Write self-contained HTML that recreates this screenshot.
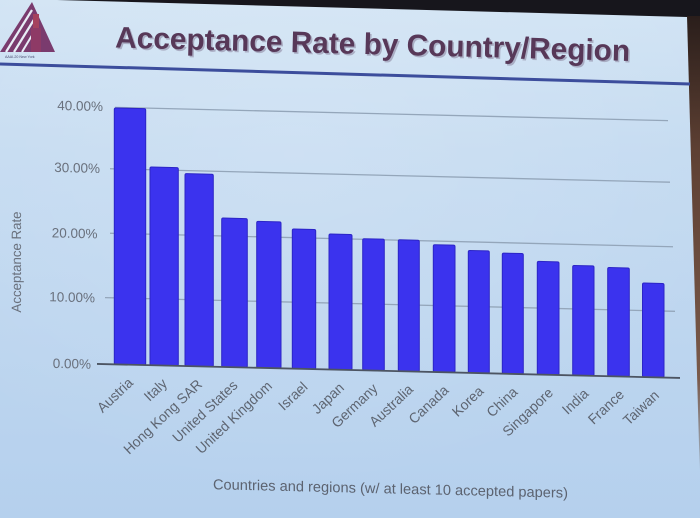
<!DOCTYPE html>
<html>
<head>
<meta charset="utf-8">
<style>
  html, body { margin: 0; padding: 0; background: #c4dbf0; }
  svg { display: block; }
  text { font-family: "Liberation Sans", Arial, sans-serif; }
</style>
</head>
<body>
<svg width="700" height="518" viewBox="0 0 700 518" xmlns="http://www.w3.org/2000/svg">
  <defs>
    <linearGradient id="bg" x1="0" y1="0" x2="0" y2="1">
      <stop offset="0" stop-color="#d2e4f4"/>
      <stop offset="0.3" stop-color="#c5dbf1"/>
      <stop offset="1" stop-color="#b5d0ed"/>
    </linearGradient>
    <radialGradient id="hl" cx="0.42" cy="0.3" r="0.65">
      <stop offset="0" stop-color="#ffffff" stop-opacity="0.15"/>
      <stop offset="1" stop-color="#ffffff" stop-opacity="0"/>
    </radialGradient>
    <linearGradient id="brown" x1="0" y1="0" x2="0" y2="1">
      <stop offset="0" stop-color="#2a1e1b"/>
      <stop offset="0.3" stop-color="#5e4033"/>
      <stop offset="0.8" stop-color="#7a5a4a"/>
      <stop offset="1" stop-color="#9fb4c8"/>
    </linearGradient>
  </defs>

  <!-- slide background -->
  <rect x="0" y="0" width="700" height="518" fill="url(#bg)"/>
  <rect x="0" y="0" width="700" height="518" fill="url(#hl)"/>

  <!-- dark area above slide -->
  <polygon points="57,0 700,0 700,18 687,17" fill="#17161c"/>
  <!-- brown strip at right -->
  <polygon points="687,16 700,16 700,470 699,445" fill="url(#brown)"/>

  <!-- logo -->
  <g>
    <polygon points="0,52 32,2 55,52" fill="#7a3b6e"/>
    <line x1="6" y1="52" x2="32" y2="10" stroke="#e8eef7" stroke-width="2.2"/>
    <line x1="14" y1="52" x2="35" y2="18" stroke="#e8eef7" stroke-width="2.2"/>
    <line x1="22" y1="52" x2="37" y2="27" stroke="#e8eef7" stroke-width="2"/>
    <rect x="33" y="14" width="6" height="38" fill="#a5425e"/>
    <rect x="31" y="28" width="10" height="24" fill="#8e3a66"/>
    <text x="5" y="58" font-size="3.6" fill="#4a4a70">AAAI-20 New York</text>
  </g>

  <!-- title -->
  <g transform="translate(115,47.5) rotate(1.5)">
    <text x="1.6" y="1.6" font-size="30" font-weight="bold" fill="#8f8aa4" fill-opacity="0.6" textLength="515" lengthAdjust="spacingAndGlyphs">Acceptance Rate by Country/Region</text>
    <text x="0" y="0" font-size="30" font-weight="bold" fill="#573858" textLength="515" lengthAdjust="spacingAndGlyphs">Acceptance Rate by Country/Region</text>
  </g>

  <!-- blue rule under title -->
  <line x1="0" y1="64" x2="690" y2="84" stroke="#3c4d9c" stroke-width="3"/>

  <!-- chart (skewed to match photo) -->
  <g transform="matrix(1,0.024,0,1,0,-2.4)">
    <!-- gridlines -->
    <g stroke="#94a6ba" stroke-width="1.3">
      <line x1="115" y1="107" x2="668" y2="107"/>
      <line x1="110" y1="168.5" x2="670" y2="168.5"/>
      <line x1="110" y1="233" x2="673" y2="233"/>
      <line x1="105" y1="297.5" x2="675" y2="297.5"/>
    </g>

    <!-- tick labels -->
    <g font-size="13.5" fill="#6a717d" text-anchor="end">
      <text x="103" y="111">40.00%</text>
      <text x="100" y="173">30.00%</text>
      <text x="97.5" y="238.5">20.00%</text>
      <text x="95" y="302.5">10.00%</text>
      <text x="91" y="369">0.00%</text>
    </g>

    <!-- y axis title -->
    <text transform="translate(21,264) rotate(-90)" font-size="13.5" fill="#6a717d" text-anchor="middle" textLength="101" lengthAdjust="spacingAndGlyphs">Acceptance Rate</text>

    <!-- bars -->
    <g fill="#3b33ee" stroke="#2c25c6" stroke-width="1">
      <rect x="114.3" y="107.6" width="31.4" height="256.4" rx="1.5"/>
      <rect x="150" y="165.8" width="28.3" height="198.2" rx="1.5"/>
      <rect x="185" y="171.6" width="28.3" height="192.4" rx="1.5"/>
      <rect x="221.7" y="215.1" width="25.6" height="148.9" rx="1.5"/>
      <rect x="256.7" y="217.6" width="24.3" height="146.4" rx="1.5"/>
      <rect x="292.3" y="224.4" width="23.4" height="139.6" rx="1.5"/>
      <rect x="329" y="228.5" width="23" height="135.5" rx="1.5"/>
      <rect x="362.7" y="232.4" width="21.6" height="131.6" rx="1.5"/>
      <rect x="398.3" y="232.6" width="21" height="131.4" rx="1.5"/>
      <rect x="433.3" y="236.7" width="21.7" height="127.3" rx="1.5"/>
      <rect x="468.3" y="241.6" width="21" height="122.4" rx="1.5"/>
      <rect x="502.3" y="243.4" width="21" height="120.6" rx="1.5"/>
      <rect x="537.3" y="250.9" width="21.7" height="113.1" rx="1.5"/>
      <rect x="572.7" y="254.1" width="21.3" height="109.9" rx="1.5"/>
      <rect x="607.7" y="255.3" width="21.6" height="108.7" rx="1.5"/>
      <rect x="642.5" y="270" width="21.5" height="94" rx="1.5"/>
    </g>

    <!-- baseline -->
    <line x1="97" y1="364" x2="680" y2="364" stroke="#4c5462" stroke-width="1.8"/>

    <!-- x labels -->
    <g font-size="14" fill="#5e6571" text-anchor="end">
      <text transform="translate(134,383) rotate(-44)">Austria</text>
      <text transform="translate(168,383) rotate(-44)">Italy</text>
      <text transform="translate(203,383) rotate(-44)">Hong Kong SAR</text>
      <text transform="translate(238.5,383) rotate(-44)">United States</text>
      <text transform="translate(273,383) rotate(-44)">United Kingdom</text>
      <text transform="translate(308.5,383) rotate(-44)">Israel</text>
      <text transform="translate(345,383) rotate(-44)">Japan</text>
      <text transform="translate(378.5,383) rotate(-44)">Germany</text>
      <text transform="translate(414,383) rotate(-44)">Australia</text>
      <text transform="translate(449.5,383) rotate(-44)">Canada</text>
      <text transform="translate(484.5,383) rotate(-44)">Korea</text>
      <text transform="translate(518.5,383) rotate(-44)">China</text>
      <text transform="translate(554,383) rotate(-44)">Singapore</text>
      <text transform="translate(589.5,383) rotate(-44)">India</text>
      <text transform="translate(625,383) rotate(-44)">France</text>
      <text transform="translate(660,383) rotate(-44)">Taiwan</text>
    </g>

    <!-- x axis title -->
    <text x="390.5" y="486.5" font-size="14.5" fill="#5c6370" text-anchor="middle" textLength="355" lengthAdjust="spacingAndGlyphs">Countries and regions (w/ at least 10 accepted papers)</text>
  </g>
</svg>
</body>
</html>
